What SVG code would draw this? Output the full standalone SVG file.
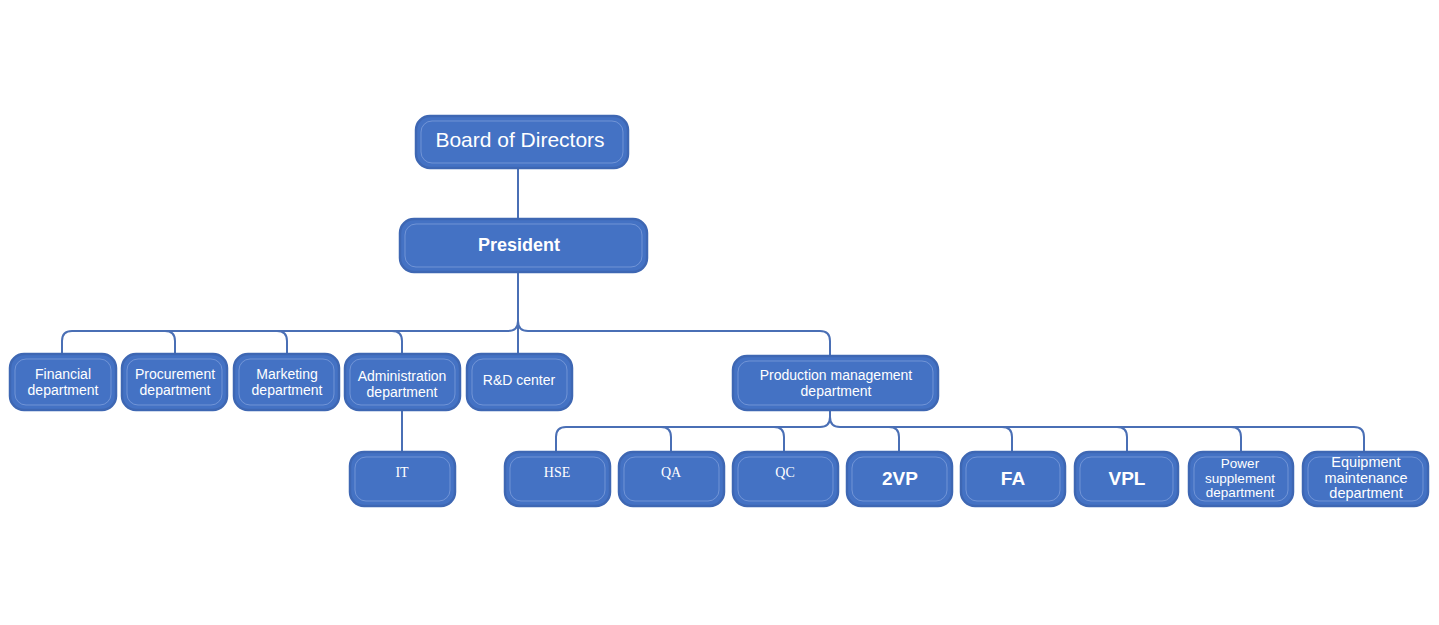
<svg xmlns="http://www.w3.org/2000/svg" width="1439" height="625" viewBox="0 0 1439 625">
<style>
.box{fill:#4472C4;stroke:#3E67B3;stroke-width:2.5}
.inner{fill:none;stroke:#7C9DDA;stroke-width:0.8}
.t{fill:#FFFFFF;font-family:"Liberation Sans",Arial,sans-serif;text-anchor:middle}
.m{font-size:14px}
.s{fill:#FFFFFF;font-family:"Liberation Serif","Times New Roman",serif;text-anchor:middle;font-size:14px}
.c{fill:none;stroke:#4A6FB5;stroke-width:2}
</style>
<rect width="1439" height="625" fill="#FFFFFF"/>
<g id="connectors">
<path class="c" d="M518 168 V218"/>
<path class="c" d="M518 272 V355"/>
<path class="c" d="M518 321 Q518 331 508 331 H72 Q62 331 62 341 V353"/>
<path class="c" d="M165 331 Q175 331 175 341 V353"/>
<path class="c" d="M277 331 Q287 331 287 341 V353"/>
<path class="c" d="M392 331 Q402 331 402 341 V353"/>
<path class="c" d="M518 321 Q518 331 528 331 H820 Q830 331 830 341 V355"/>
<path class="c" d="M402 411 V451"/>
<path class="c" d="M830 410 V417 Q830 427 820 427 H566 Q556 427 556 437 V451"/>
<path class="c" d="M830 417 Q830 427 840 427 H1354 Q1364 427 1364 437 V451"/>
<path class="c" d="M661 427 Q671 427 671 437 V451"/>
<path class="c" d="M774 427 Q784 427 784 437 V451"/>
<path class="c" d="M889 427 Q899 427 899 437 V451"/>
<path class="c" d="M1002 427 Q1012 427 1012 437 V451"/>
<path class="c" d="M1117 427 Q1127 427 1127 437 V451"/>
<path class="c" d="M1231 427 Q1241 427 1241 437 V451"/>
</g>
<g id="board">
<rect class="box" x="416" y="116" width="212" height="52" rx="14"/>
<rect class="inner" x="421" y="121" width="202" height="42" rx="11"/>
<text class="t" x="520" y="147" font-size="21">Board of Directors</text>
</g>
<g id="president">
<rect class="box" x="400" y="219" width="247" height="53" rx="14"/>
<rect class="inner" x="405" y="224" width="237" height="43" rx="11"/>
<text class="t" x="519" y="251" font-size="18" font-weight="bold">President</text>
</g>
<g id="financial">
<rect class="box" x="10" y="354" width="106" height="56" rx="14"/>
<rect class="inner" x="15" y="359" width="96" height="46" rx="11"/>
<text class="t m" x="63" y="379">Financial</text>
<text class="t m" x="63" y="395">department</text>
</g>
<g id="procurement">
<rect class="box" x="122" y="354" width="105" height="56" rx="14"/>
<rect class="inner" x="127" y="359" width="95" height="46" rx="11"/>
<text class="t m" x="175" y="379">Procurement</text>
<text class="t m" x="175" y="395">department</text>
</g>
<g id="marketing">
<rect class="box" x="234" y="354" width="105" height="56" rx="14"/>
<rect class="inner" x="239" y="359" width="95" height="46" rx="11"/>
<text class="t m" x="287" y="379">Marketing</text>
<text class="t m" x="287" y="395">department</text>
</g>
<g id="administration">
<rect class="box" x="345" y="354" width="115" height="56" rx="14"/>
<rect class="inner" x="350" y="359" width="105" height="46" rx="11"/>
<text class="t m" x="402" y="381">Administration</text>
<text class="t m" x="402" y="397">department</text>
</g>
<g id="rd">
<rect class="box" x="467" y="354" width="105" height="56" rx="14"/>
<rect class="inner" x="472" y="359" width="95" height="46" rx="11"/>
<text class="t m" x="519" y="385">R&amp;D center</text>
</g>
<g id="production">
<rect class="box" x="733" y="356" width="205" height="54" rx="14"/>
<rect class="inner" x="738" y="361" width="195" height="44" rx="11"/>
<text class="t m" x="836" y="380">Production management</text>
<text class="t m" x="836" y="396">department</text>
</g>
<g id="it">
<rect class="box" x="350" y="452" width="105" height="54" rx="14"/>
<rect class="inner" x="355" y="457" width="95" height="44" rx="11"/>
<text class="s" x="402" y="477">IT</text>
</g>
<g id="hse">
<rect class="box" x="505" y="452" width="105" height="54" rx="14"/>
<rect class="inner" x="510" y="457" width="95" height="44" rx="11"/>
<text class="s" x="557" y="477">HSE</text>
</g>
<g id="qa">
<rect class="box" x="619" y="452" width="105" height="54" rx="14"/>
<rect class="inner" x="624" y="457" width="95" height="44" rx="11"/>
<text class="s" x="671" y="477">QA</text>
</g>
<g id="qc">
<rect class="box" x="733" y="452" width="105" height="54" rx="14"/>
<rect class="inner" x="738" y="457" width="95" height="44" rx="11"/>
<text class="s" x="785" y="477">QC</text>
</g>
<g id="vp2">
<rect class="box" x="847" y="452" width="105" height="54" rx="14"/>
<rect class="inner" x="852" y="457" width="95" height="44" rx="11"/>
<text class="t" x="900" y="485" font-size="19" font-weight="bold">2VP</text>
</g>
<g id="fa">
<rect class="box" x="961" y="452" width="104" height="54" rx="14"/>
<rect class="inner" x="966" y="457" width="94" height="44" rx="11"/>
<text class="t" x="1013" y="485" font-size="19" font-weight="bold">FA</text>
</g>
<g id="vpl">
<rect class="box" x="1075" y="452" width="103" height="54" rx="14"/>
<rect class="inner" x="1080" y="457" width="93" height="44" rx="11"/>
<text class="t" x="1127" y="485" font-size="19" font-weight="bold">VPL</text>
</g>
<g id="power">
<rect class="box" x="1189" y="452" width="104" height="54" rx="14"/>
<rect class="inner" x="1194" y="457" width="94" height="44" rx="11"/>
<text class="t" x="1240" y="468" font-size="13.5">Power</text>
<text class="t" x="1240" y="483" font-size="13.5">supplement</text>
<text class="t" x="1240" y="497" font-size="13.5">department</text>
</g>
<g id="equipment">
<rect class="box" x="1303" y="452" width="125" height="54" rx="14"/>
<rect class="inner" x="1308" y="457" width="115" height="44" rx="11"/>
<text class="t" x="1366" y="467" font-size="14.5">Equipment</text>
<text class="t" x="1366" y="483" font-size="14.5">maintenance</text>
<text class="t" x="1366" y="498" font-size="14.5">department</text>
</g>
</svg>
